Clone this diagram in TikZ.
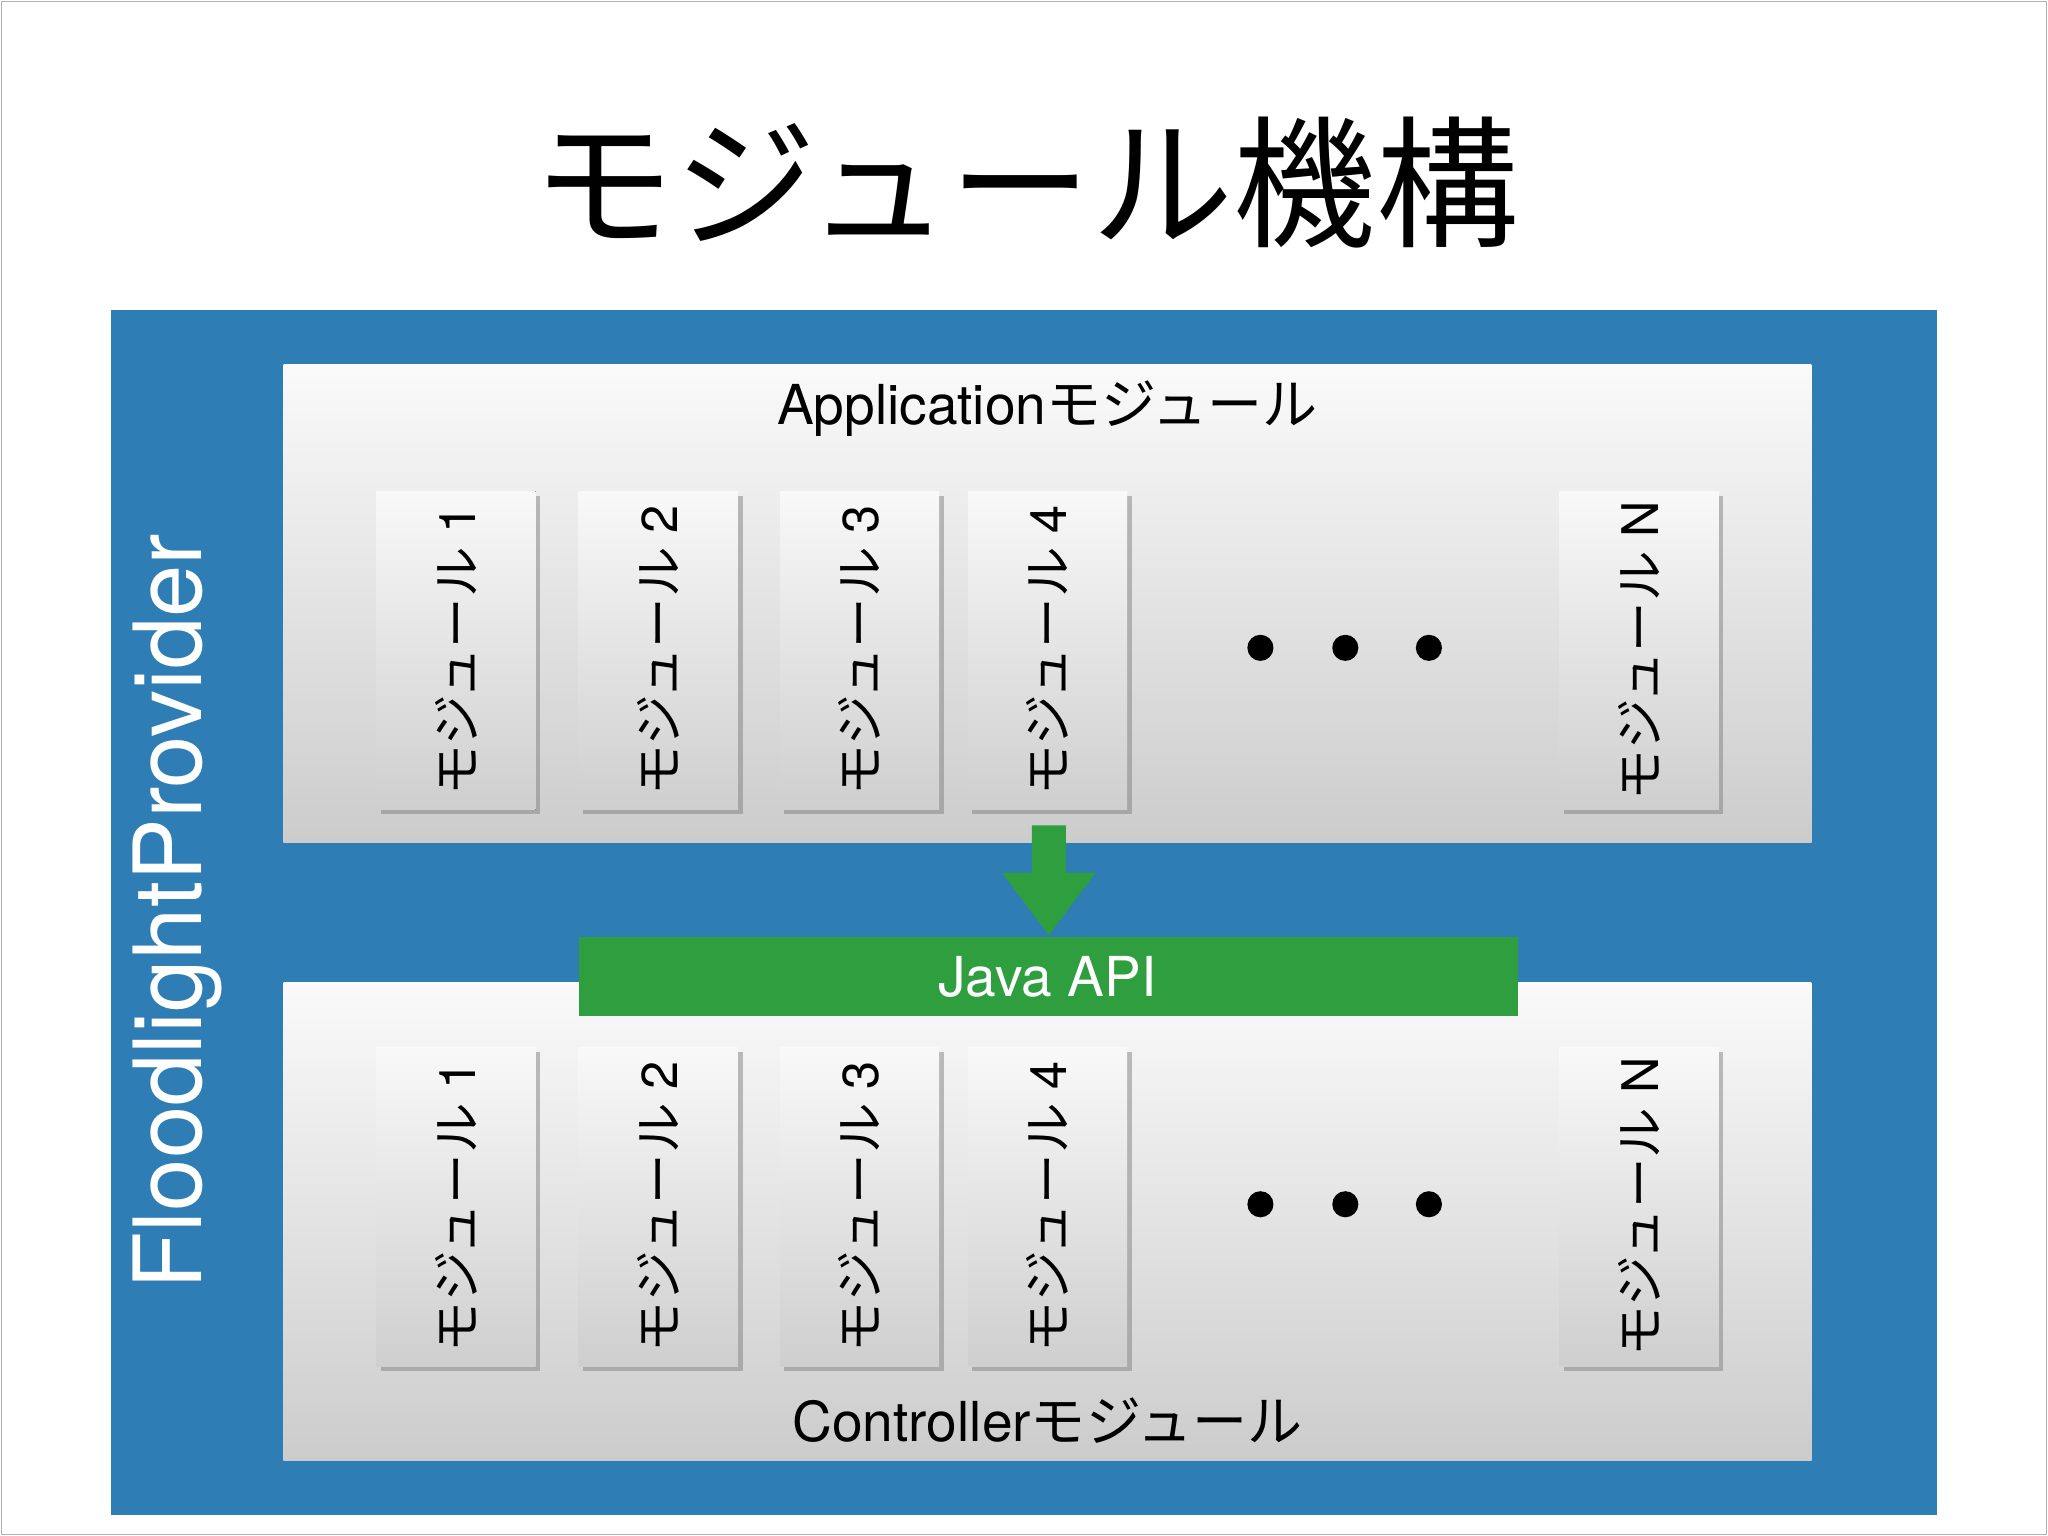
\documentclass[tikz,border=0pt]{standalone}
\usepackage{fontspec}
\setmainfont{TeX Gyre Heros}
\newfontfamily\jp{Noto Sans CJK JP}
\usetikzlibrary{shadows}
\definecolor{bluebg}{HTML}{2E7DB5}
\definecolor{greenc}{HTML}{2E9E3E}
\tikzset{
  panel/.style={draw=none,top color=gray!4,bottom color=gray!40},
  modbox/.style={draw=none,top color=gray!5,bottom color=gray!38,drop shadow={shadow xshift=2pt,shadow yshift=-2pt,opacity=0.5}},
  modtxt/.style={rotate=90,font=\fontsize{22}{26}\selectfont,text=black},
  dot/.style={fill=black,circle,inner sep=0pt,minimum size=0.4cm}
}
\newcommand{\modrow}[3]{%
  \foreach \xa/\lab [count=\i] in {288/1,443/2,597/3,741/4,1194/N}{
    \fill[modbox] (\xa,#1) rectangle ++(122,244);
    \node[modtxt] (#3\i) at (\xa+61,#1+122) {{\jp モジュール} \lab};
  }
  \node[dot] (#3d1) at (965,#2) {};
  \node[dot] (#3d2) at (1030,#2) {};
  \node[dot] (#3d3) at (1094,#2) {};
}
\begin{document}
\begin{tikzpicture}[x=0.02cm,y=-0.02cm]
\useasboundingbox (0,0) rectangle (1568,1176);
\fill[white] (0,0) rectangle (1568,1176);
\draw[gray!60,line width=0.5pt] (1,1) rectangle (1567,1175);
\node (title) at (785,140) {\jp\fontsize{62}{70}\selectfont モジュール機構};
\fill[bluebg] (85,237) rectangle (1483,1160);
\node[rotate=90,text=white,font=\fontsize{41}{45}\selectfont] (fp) at (136,698) {FloodlightProvider};
% application
\fill[panel] (217,279) rectangle (1387,645);
\node[font=\fontsize{24}{28}\selectfont] (app) at (802,313) {Application{\jp モジュール}};
\modrow{376}{496}{a}
% controller
\fill[panel] (217,752) rectangle (1387,1118);
\node[font=\fontsize{24}{28}\selectfont] (ctl) at (802,1088) {Controller{\jp モジュール}};
\modrow{802}{922}{c}
% java api
\fill[greenc] (443,717) rectangle (1162,778);
\node[text=white,font=\fontsize{24}{28}\selectfont] (api) at (802,748) {Java API};
\fill[greenc] (790,632) -- (816,632) -- (816,668) -- (839,668) -- (803,716) -- (767,668) -- (790,668) -- cycle;
\end{tikzpicture}
\end{document}
